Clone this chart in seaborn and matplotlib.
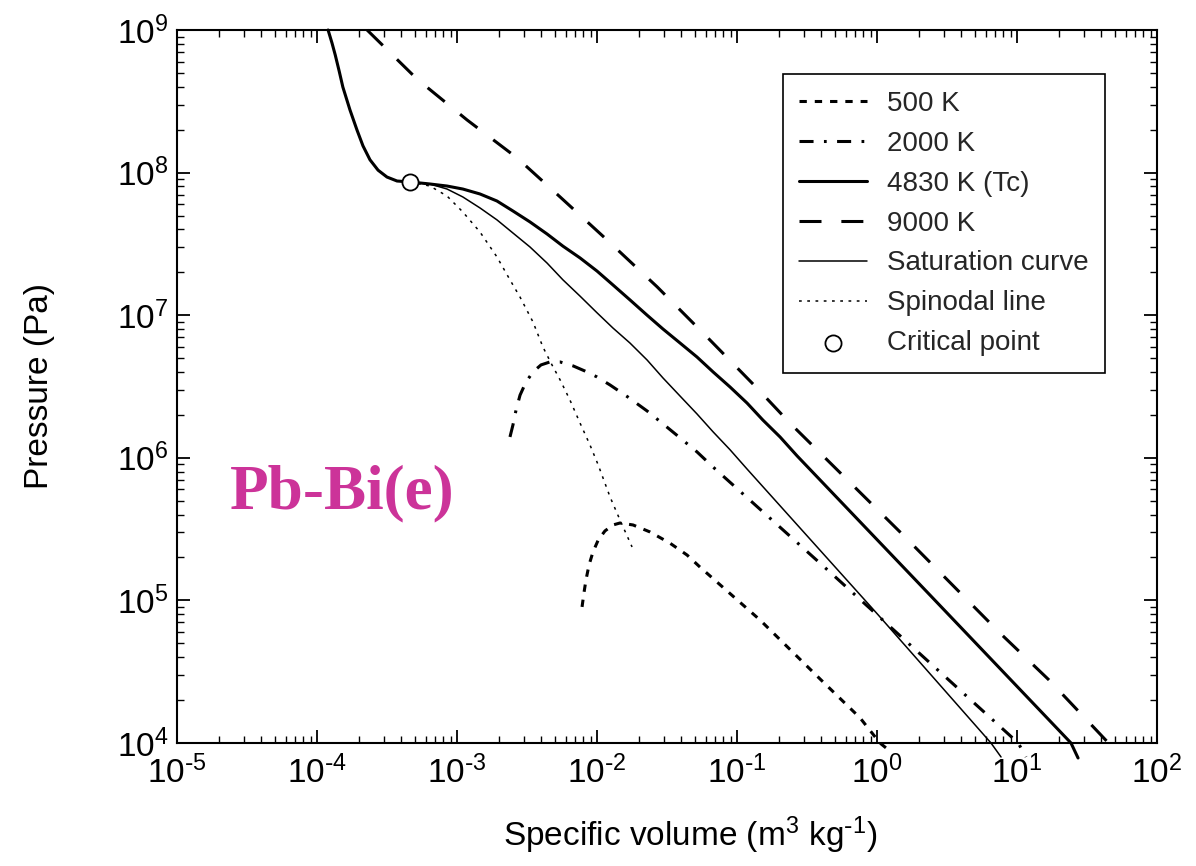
import numpy as np
import matplotlib
matplotlib.use("Agg")
import matplotlib.pyplot as plt
from matplotlib.ticker import FixedLocator, FixedFormatter, LogLocator, NullFormatter
import seaborn as sns

# ---------------- data ----------------
# 500 K isotherm
v_500 = [7.82e-3, 8.07e-3, 8.34e-3, 8.77e-3, 9.35e-3, 1.02e-2, 1.14e-2, 1.30e-2,
         1.46e-2, 1.81e-2, 2.39e-2, 3.32e-2, 4.40e-2, 5.45e-2, 0.146, 0.398,
         0.757, 1.05, 1.26]
p_500 = [9.0e4, 1.13e5, 1.39e5, 1.77e5, 2.18e5, 2.65e5, 3.07e5, 3.38e5,
         3.49e5, 3.38e5, 3.02e5, 2.52e5, 2.08e5, 1.71e5, 7.29e4, 2.77e4,
         1.50e4, 1.0e4, 8.65e3]

# 2000 K isotherm
v_2000 = [2.39e-3, 2.51e-3, 2.64e-3, 2.82e-3, 3.11e-3, 3.49e-3, 3.98e-3, 4.61e-3,
          5.45e-3, 6.75e-3, 8.20e-3, 1.00e-2, 1.24e-2, 1.66e-2, 2.28e-2, 2.96e-2,
          3.92e-2, 5.18e-2, 6.75e-2, 0.461, 10.2, 11.6]
p_2000 = [1.40e6, 1.70e6, 2.16e6, 2.75e6, 3.40e6, 4.00e6, 4.48e6, 4.70e6,
          4.70e6, 4.41e6, 4.06e6, 3.69e6, 3.24e6, 2.67e6, 2.13e6, 1.73e6,
          1.38e6, 1.10e6, 8.61e5, 1.58e5, 1.0e4, 7.98e3]

# 4830 K (critical) isotherm
v_tc = [1.20e-4, 1.28e-4, 1.35e-4, 1.44e-4, 1.53e-4, 1.72e-4, 1.93e-4, 2.13e-4,
        2.39e-4, 2.73e-4, 3.16e-4, 3.73e-4, 4.61e-4, 6.41e-4, 8.49e-4, 1.10e-3,
        1.46e-3, 1.93e-3, 2.51e-3, 3.32e-3, 4.40e-3, 5.71e-3, 7.57e-3, 1.00e-2,
        1.30e-2, 1.72e-2, 2.28e-2, 2.96e-2, 3.92e-2, 5.18e-2, 6.75e-2, 8.91e-2,
        0.118, 0.153, 0.203, 0.269, 2.39, 24.3, 27.3]
p_tc = [1.00e9, 8.10e8, 6.68e8, 5.15e8, 3.98e8, 2.75e8, 1.99e8, 1.54e8,
        1.23e8, 1.04e8, 9.31e7, 8.73e7, 8.60e7, 8.32e7, 8.05e7, 7.67e7,
        7.08e7, 6.32e7, 5.38e7, 4.51e7, 3.71e7, 3.05e7, 2.52e7, 2.04e7,
        1.63e7, 1.28e7, 1.00e7, 8.00e6, 6.38e6, 5.09e6, 4.00e6, 3.14e6,
        2.42e6, 1.84e6, 1.40e6, 1.03e6, 1.09e5, 1.00e4, 7.85e3]

# 9000 K isotherm
v_9000 = [2.28e-4, 5.18e-4, 1.18e-3, 2.68e-3, 5.45e-3, 1.18e-2, 2.69e-2, 6.11e-2,
          0.139, 0.239, 1.46, 7.56, 16.9, 30.1, 52.6]
p_9000 = [1.0e9, 4.53e8, 2.34e8, 1.27e8, 6.75e7, 3.37e7, 1.58e7, 7.03e6,
          3.08e6, 1.75e6, 3.02e5, 5.90e4, 2.77e4, 1.52e4, 8.51e3]

# saturation curve (vapour branch)
v_sat = [4.61e-4, 6.41e-4, 8.49e-4, 1.10e-3, 1.46e-3, 1.93e-3, 2.51e-3, 3.32e-3,
         4.40e-3, 5.71e-3, 7.57e-3, 1.00e-2, 1.30e-2, 1.72e-2, 2.28e-2, 2.96e-2,
         3.92e-2, 5.18e-2, 6.75e-2, 8.91e-2, 0.118, 0.282, 1.02, 6.52, 7.69]
p_sat = [8.60e7, 8.32e7, 7.67e7, 6.75e7, 5.65e7, 4.66e7, 3.77e7, 3.01e7,
         2.32e7, 1.77e7, 1.36e7, 1.04e7, 8.13e6, 6.38e6, 4.85e6, 3.63e6,
         2.71e6, 2.03e6, 1.52e6, 1.14e6, 8.34e5, 3.22e5, 7.91e4, 1.00e4, 7.98e3]

# spinodal line
v_spin = [4.61e-4, 6.41e-4, 8.49e-4, 1.10e-3, 1.46e-3, 1.93e-3, 2.39e-3, 2.82e-3,
          3.49e-3, 4.11e-3, 4.77e-3, 5.45e-3, 6.41e-3, 7.57e-3, 8.91e-3, 1.02e-2,
          1.24e-2, 1.46e-2, 1.78e-2]
p_spin = [8.60e7, 8.05e7, 6.85e7, 5.30e7, 3.83e7, 2.56e7, 1.77e7, 1.34e7,
          8.96e6, 5.98e6, 4.48e6, 3.52e6, 2.54e6, 1.75e6, 1.23e6, 8.91e5,
          5.31e5, 3.66e5, 2.37e5]

# critical point
v_crit = [4.61e-4]
p_crit = [8.60e7]

x_ticks = [1e-5, 1e-4, 1e-3, 1e-2, 1e-1, 1e0, 1e1, 1e2]
x_ticklabels = [r"$10^{\text{-}5}$", r"$10^{\text{-}4}$", r"$10^{\text{-}3}$",
                r"$10^{\text{-}2}$", r"$10^{\text{-}1}$", r"$10^{0}$",
                r"$10^{1}$", r"$10^{2}$"]
y_ticks = [1e4, 1e5, 1e6, 1e7, 1e8, 1e9]
y_ticklabels = [r"$10^{4}$", r"$10^{5}$", r"$10^{6}$", r"$10^{7}$",
                r"$10^{8}$", r"$10^{9}$"]

# ---------------- style ----------------
sns.set_theme(style="ticks")
plt.rcParams["font.family"] = ["Liberation Sans", "DejaVu Sans"]
plt.rcParams["mathtext.default"] = "regular"
plt.rcParams["axes.unicode_minus"] = False

fig = plt.figure(figsize=(11.96, 8.66), dpi=100)
ax = fig.add_axes([177 / 1196, 1 - 743 / 866, 980 / 1196, 713 / 866])
ax.set_xscale("log")
ax.set_yscale("log")

THICK = 2.2
THIN = 1.1


def draw(v, p, label, lw, ls, z=3):
    sns.lineplot(x=v, y=p, ax=ax, sort=False, estimator=None, color="black",
                 linewidth=lw, linestyle=ls, label=label, clip_on=False, zorder=z)


draw(v_500, p_500, "500 K", THICK, (0, (2.4, 2.6)))
draw(v_2000, p_2000, "2000 K", THICK, (0, (4.6, 3.4, 0.9, 3.4)))
draw(v_tc, p_tc, "4830 K (Tc)", THICK, "-")
draw(v_9000, p_9000, "9000 K", THICK, (0, (7.2, 6.5)))
draw(v_sat, p_sat, "Saturation curve", THIN, "-")
draw(v_spin, p_spin, "Spinodal line", THIN, (0, (1.8, 3.6)))
sns.scatterplot(x=v_crit, y=p_crit, ax=ax, s=135, color="white",
                edgecolor="black", linewidth=1.3, label="Critical point",
                zorder=6, clip_on=False)

ax.set_xlim(1e-5, 1e2)
ax.set_ylim(1e4, 1e9)

ax.xaxis.set_major_locator(FixedLocator(x_ticks))
ax.xaxis.set_major_formatter(FixedFormatter(x_ticklabels))
ax.yaxis.set_major_locator(FixedLocator(y_ticks))
ax.yaxis.set_major_formatter(FixedFormatter(y_ticklabels))
ax.xaxis.set_minor_locator(LogLocator(base=10, subs=np.arange(2, 10), numticks=20))
ax.yaxis.set_minor_locator(LogLocator(base=10, subs=np.arange(2, 10), numticks=20))
ax.xaxis.set_minor_formatter(NullFormatter())
ax.yaxis.set_minor_formatter(NullFormatter())

ax.tick_params(which="both", direction="in", top=True, right=True, colors="black")
ax.tick_params(which="major", length=9.5, width=1.3, labelsize=24)
ax.tick_params(which="minor", length=5, width=1.0)
ax.tick_params(axis="x", which="major", pad=9)
ax.tick_params(axis="y", which="major", pad=6)

for s in ax.spines.values():
    s.set_color("black")
    s.set_linewidth(1.5)
    s.set_visible(True)

ax.set_xlabel(r"Specific volume (m$^{3}$ kg$^{\text{-}1}$)", fontsize=24,
              color="black")
ax.set_ylabel("Pressure (Pa)", fontsize=24, color="black")
ax.xaxis.set_label_coords(0.524, -0.100)
ax.yaxis.set_label_coords(-0.1245, 0.5)

ax.legend(loc="upper left", bbox_to_anchor=(0.618, 0.938), fontsize=20.0,
          frameon=True, fancybox=False, edgecolor="black", framealpha=1,
          borderpad=0.6, handlelength=2.45, handletextpad=0.7,
          labelspacing=0.5, borderaxespad=0)
ax.get_legend().get_frame().set_linewidth(1.2)

fig.text(230 / 1196, 1 - 508 / 866, "Pb-Bi(e)", ha="left", va="baseline",
         fontsize=45.5, fontweight="bold", family="Liberation Serif",
         color="#cc3399")

fig.savefig("out.png", dpi=100, facecolor="white")
